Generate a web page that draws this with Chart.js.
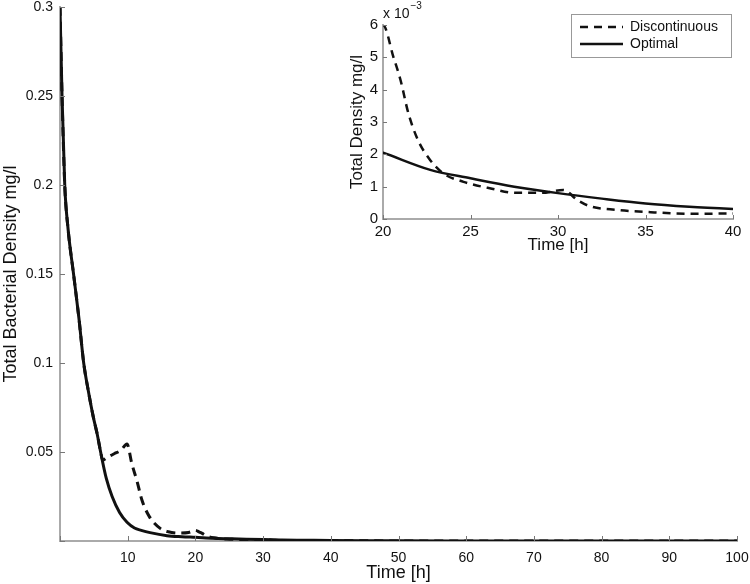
<!DOCTYPE html>
<html>
<head>
<meta charset="UTF-8">
<title>Total Bacterial Density</title>
<script src="https://cdn.jsdelivr.net/npm/chart.js@4.4.1/dist/chart.umd.min.js"></script>
<style>
body { margin: 0; background: #fff; }
#mainChart { position: absolute; left: 0; top: 0; }
#insetChart { position: absolute; left: 340px; top: 0; background: #fff; }
</style>
</head>
<body>
<canvas id="mainChart" width="750" height="584"></canvas>
<canvas id="insetChart" width="410" height="258"></canvas>
<script>
// values (time in h, density in mg/l)
const optTime = [0, 0.3, 0.7, 1.2, 2.0, 2.8, 3.5, 4.2, 4.9, 5.5, 6.0, 6.85, 7.7, 8.8, 9.9, 11, 12, 13.3, 15.8, 18, 20, 22.7, 25, 27.5, 30, 32.5, 35, 37.5, 40, 45, 50, 60, 70, 80, 90, 100];
const optDensity = [0.3, 0.25, 0.2, 0.175, 0.15, 0.125, 0.1, 0.084, 0.07, 0.06, 0.05, 0.035, 0.025, 0.016, 0.0105, 0.0073, 0.006, 0.0047, 0.003, 0.0024, 0.00205, 0.00152, 0.00126, 0.001, 0.0008, 0.00063, 0.00048, 0.00038, 0.00031, 0.0002, 0.00012, 0.00005, 0.00002, 0.00001, 0, 0];

const discTime = [0, 0.3, 0.7, 1.2, 2.0, 2.8, 3.5, 4.2, 4.9, 5.5, 6.0, 6.3, 7, 8, 9, 9.9, 10.6, 11.4, 12.1, 13.2, 14.8, 16, 17.5, 19, 20, 20.6, 21, 21.45, 22, 22.7, 23.45, 24.6, 26.1, 27.6, 29.1, 30.3, 31.1, 31.8, 33.35, 35.3, 37.9, 40, 45, 50, 60, 80, 100];
const discDensity = [0.3, 0.25, 0.2, 0.175, 0.15, 0.125, 0.1, 0.084, 0.07, 0.06, 0.05, 0.0455, 0.047, 0.049, 0.051, 0.0545, 0.0436, 0.0333, 0.023, 0.0137, 0.0071, 0.0052, 0.0045, 0.0048, 0.006, 0.005, 0.0043, 0.00327, 0.00244, 0.00182, 0.00141, 0.00115, 0.00095, 0.00081, 0.00081, 0.0009, 0.00059, 0.0004, 0.00028, 0.00021, 0.00016, 0.00017, 0.0001, 0.00005, 0.00002, 0.00001, 0];

const seriesLabels = ['Discontinuous', 'Optimal'];

const mainXTicks = [0, 10, 20, 30, 40, 50, 60, 70, 80, 90, 100];
const mainYTicks = [0, 0.05, 0.1, 0.15, 0.2, 0.25, 0.3];
const insetXTicks = [20, 25, 30, 35, 40];
const insetYTicks = [0, 0.001, 0.002, 0.003, 0.004, 0.005, 0.006];

const FONT = "'Liberation Sans', Arial, sans-serif";

function toPoints(xs, ys) {
    return xs.map((x, i) => ({ x: x, y: ys[i] }));
}

// tick marks pointing into the plot, like matlab
const innerTicks = {
    id: 'innerTicks',
    afterDatasetsDraw(chart, args, opts) {
        const { ctx, chartArea, scales } = chart;
        const len = opts.length || 5;
        ctx.save();
        ctx.strokeStyle = opts.color || '#888';
        ctx.lineWidth = 1;
        ctx.beginPath();
        scales.x.ticks.forEach(t => {
            const px = Math.round(scales.x.getPixelForValue(t.value)) + 0.5;
            ctx.moveTo(px, chartArea.bottom);
            ctx.lineTo(px, chartArea.bottom - len);
        });
        scales.y.ticks.forEach(t => {
            const py = Math.round(scales.y.getPixelForValue(t.value)) + 0.5;
            ctx.moveTo(chartArea.left, py);
            ctx.lineTo(chartArea.left + len, py);
        });
        ctx.stroke();
        ctx.restore();
    }
};

// legend box + exponent label for the inset
const insetExtras = {
    id: 'insetExtras',
    afterDraw(chart) {
        const { ctx, chartArea } = chart;
        ctx.save();
        // exponent
        ctx.fillStyle = '#111';
        ctx.textBaseline = 'alphabetic';
        ctx.font = '14px ' + FONT;
        ctx.fillText('x 10', chartArea.left, 18);
        const w = ctx.measureText('x 10').width;
        ctx.font = '10px ' + FONT;
        ctx.fillText('\u22123', chartArea.left + w + 1, 9);

        // legend
        const bx = 231, by = 14, bw = 160, bh = 43;
        ctx.fillStyle = '#fff';
        ctx.fillRect(bx, by, bw, bh);
        ctx.strokeStyle = '#999';
        ctx.lineWidth = 1;
        ctx.strokeRect(bx + 0.5, by + 0.5, bw, bh);
        ctx.font = '14px ' + FONT;
        ctx.textBaseline = 'middle';
        chart.data.datasets.forEach((ds, i) => {
            const ly = by + 13 + i * 17;
            ctx.strokeStyle = ds.borderColor;
            ctx.lineWidth = 2.5;
            ctx.setLineDash(ds.borderDash || []);
            ctx.beginPath();
            ctx.moveTo(bx + 9, ly);
            ctx.lineTo(bx + 52, ly);
            ctx.stroke();
            ctx.setLineDash([]);
            ctx.fillStyle = '#111';
            ctx.fillText(ds.label, bx + 59, ly);
        });
        ctx.restore();
    }
};

function setTicks(values) {
    return function (scale) {
        scale.ticks = values.map(v => ({ value: v }));
    };
}

// fixed axis sizes, no extra room for the end labels
function fitX(h) {
    return s => { s.height = h; s.paddingLeft = 0; s.paddingRight = 0; };
}
function fitY(w) {
    return s => { s.width = w; s.paddingTop = 0; s.paddingBottom = 0; };
}

function buildDatasets(width, dash) {
    return [
        {
            label: seriesLabels[0],
            data: toPoints(discTime, discDensity),
            borderColor: '#111',
            borderWidth: width,
            borderDash: dash,
            pointRadius: 0,
            cubicInterpolationMode: 'monotone',
            fill: false
        },
        {
            label: seriesLabels[1],
            data: toPoints(optTime, optDensity),
            borderColor: '#111',
            borderWidth: width,
            pointRadius: 0,
            cubicInterpolationMode: 'monotone',
            fill: false
        }
    ];
}

const mainChart = new Chart(document.getElementById('mainChart'), {
    type: 'line',
    data: { datasets: buildDatasets(3, [9, 6]) },
    options: {
        responsive: false,
        animation: false,
        layout: { padding: { top: 7, right: 13, left: 0, bottom: 0 } },
        plugins: {
            legend: { display: false },
            tooltip: { enabled: false },
            innerTicks: { color: '#777', length: 5 }
        },
        scales: {
            x: {
                type: 'linear',
                min: 0, max: 100,
                afterBuildTicks: setTicks(mainXTicks),
                afterFit: fitX(43),
                grid: { display: false, drawTicks: false },
                border: { color: '#aaa', width: 2 },
                ticks: {
                    padding: 9,
                    color: '#111',
                    font: { family: FONT, size: 14 },
                    callback: v => v === 0 ? '' : v
                },
                title: {
                    display: true, text: 'Time [h]', color: '#111',
                    font: { family: FONT, size: 18 },
                    padding: { top: 0, bottom: 0 }
                }
            },
            y: {
                min: 0, max: 0.3,
                afterBuildTicks: setTicks(mainYTicks),
                afterFit: fitY(60),
                grid: { display: false, drawTicks: false },
                border: { color: '#aaa', width: 2 },
                ticks: {
                    padding: 7,
                    color: '#111',
                    font: { family: FONT, size: 14 },
                    callback: v => v === 0 ? '' : String(+v.toFixed(2))
                },
                title: {
                    display: true, text: 'Total Bacterial Density mg/l', color: '#111',
                    font: { family: FONT, size: 18 },
                    padding: { top: 0, bottom: 0 }
                }
            }
        }
    },
    plugins: [innerTicks]
});

const insetChart = new Chart(document.getElementById('insetChart'), {
    type: 'line',
    data: { datasets: buildDatasets(2.5, [8, 6]) },
    options: {
        responsive: false,
        animation: false,
        layout: { padding: { top: 25, right: 17, left: 0, bottom: 0 } },
        plugins: {
            legend: { display: false },
            tooltip: { enabled: false },
            innerTicks: { color: '#777', length: 4 }
        },
        scales: {
            x: {
                type: 'linear',
                min: 20, max: 40,
                afterBuildTicks: setTicks(insetXTicks),
                afterFit: fitX(39),
                grid: { display: false, drawTicks: false },
                border: { color: '#aaa', width: 2 },
                ticks: {
                    padding: 4,
                    color: '#111',
                    font: { family: FONT, size: 15 }
                },
                title: {
                    display: true, text: 'Time [h]', color: '#111',
                    font: { family: FONT, size: 17 },
                    padding: { top: 0, bottom: 2 }
                }
            },
            y: {
                min: 0, max: 0.006,
                afterBuildTicks: setTicks(insetYTicks),
                afterFit: fitY(43),
                grid: { display: false, drawTicks: false },
                border: { color: '#aaa', width: 2 },
                ticks: {
                    padding: 5,
                    color: '#111',
                    font: { family: FONT, size: 15 },
                    callback: v => String(Math.round(v * 1000))
                },
                title: {
                    display: true, text: 'Total Density mg/l', color: '#111',
                    font: { family: FONT, size: 17 },
                    padding: { top: 7, bottom: 0 }
                }
            }
        }
    },
    plugins: [innerTicks, insetExtras]
});
</script>
</body>
</html>
